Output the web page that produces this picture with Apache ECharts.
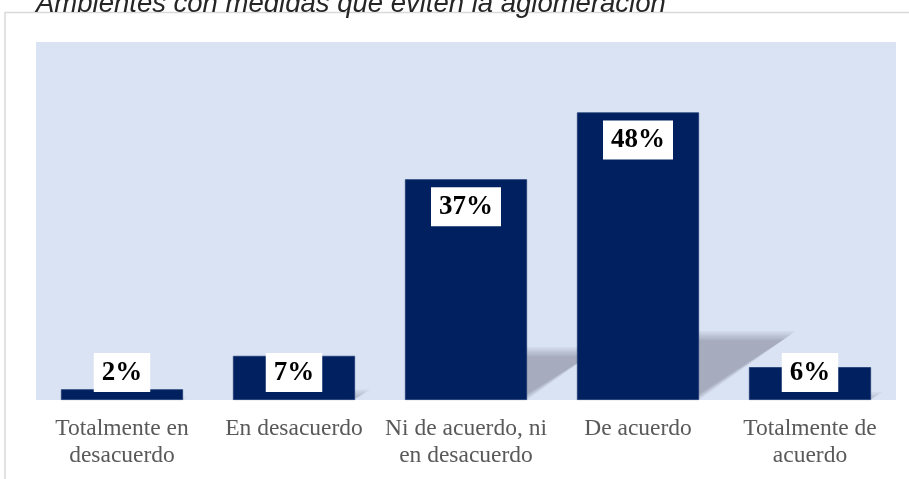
<!DOCTYPE html>
<html>
<head>
<meta charset="utf-8">
<script src="https://cdn.jsdelivr.net/npm/echarts@6/dist/echarts.min.js"></script>
<style>html,body{margin:0;padding:0;background:#fff;}#c{width:909px;height:479px;}</style>
</head>
<body>
<div id="c"></div>
<script>
var titleText = 'Ambientes con medidas que eviten la aglomeración';
var categories = ['Totalmente en\ndesacuerdo', 'En desacuerdo', 'Ni de acuerdo, ni\nen desacuerdo', 'De acuerdo', 'Totalmente de\nacuerdo'];
var values = [1.8, 7.4, 37.0, 48.2, 5.5];
var valueLabels = ['2%', '7%', '37%', '48%', '6%'];
var yMin = 0, yMax = 60;

var chart = echarts.init(document.getElementById('c'), null, {renderer: 'canvas'});
var BAR_RATIO = 0.71;

var barData = values.map(function (v, i) {
  var small = v < 10;
  return {
    value: v,
    label: {
      position: small ? 'insideBottom' : 'insideTop',
      distance: 8
    }
  };
});

chart.setOption({
  animation: false,
  backgroundColor: '#ffffff',
  graphic: [
    {type: 'rect', z: -10, shape: {x: 5, y: 12.5, width: 1000, height: 1000},
     style: {fill: '#ffffff', stroke: '#d9d9d9', lineWidth: 1.5}}
  ],
  title: {
    text: titleText,
    left: 31, top: -14,
    textStyle: {fontFamily: 'Liberation Sans, Arial, sans-serif', fontStyle: 'italic', fontWeight: 'normal', fontSize: 27.5, color: '#262626'}
  },
  grid: {left: 36, right: 13, top: 42, bottom: 79, show: true, backgroundColor: '#dae3f3', borderWidth: 0, containLabel: false},
  xAxis: {
    type: 'category',
    data: categories,
    axisLine: {show: false},
    axisTick: {show: false},
    axisLabel: {
      interval: 0,
      margin: 15,
      color: '#595959',
      fontFamily: 'Liberation Serif, Times New Roman, serif',
      fontSize: 23.5,
      lineHeight: 27
    }
  },
  yAxis: {
    type: 'value', min: yMin, max: yMax,
    show: false,
    splitLine: {show: false}
  },
  series: [
    {
      type: 'custom',
      z: 1,
      clip: true,
      silent: true,
      data: values.map(function (v, i) { return [i, v]; }),
      renderItem: function (params, api) {
        var idx = api.value(0), v = api.value(1);
        var base = api.coord([idx, 0]);
        var top = api.coord([idx, v]);
        var bw = api.size([1, 0])[0] * BAR_RATIO;
        var h = base[1] - top[1];
        var sh = h * 0.24;
        var dx = sh * 1.4;
        var xl = base[0] - bw / 2, xr = base[0] + bw / 2, y0 = base[1];
        var layers = [];
        var N = 7;
        for (var k = 0; k < N; k++) {
          var ins = k * 1.6;
          var ty = y0 - sh + ins;
          if (ty >= y0) break;
          layers.push({
            type: 'polygon',
            shape: {points: [[xl, y0], [xr - ins, y0], [xr + dx - ins * 1.4, ty], [xl + dx, ty]]},
            style: {fill: 'rgba(60,65,80,0.05)'}
          });
        }
        return {type: 'group', children: layers};
      }
    },
    {
      type: 'bar',
      z: 2,
      barWidth: (BAR_RATIO * 100) + '%',
      data: barData,
      itemStyle: {color: '#002060', borderColor: '#1d3a72', borderWidth: 0.8},
      label: {
        show: true,
        formatter: function (p) { return valueLabels[p.dataIndex]; },
        fontFamily: 'Liberation Serif, Times New Roman, serif',
        fontWeight: 'bold',
        fontSize: 27,
        lineHeight: 30,
        color: '#000000',
        backgroundColor: '#ffffff',
        padding: [5, 8, 4, 8]
      }
    }
  ]
});
</script>
</body>
</html>
